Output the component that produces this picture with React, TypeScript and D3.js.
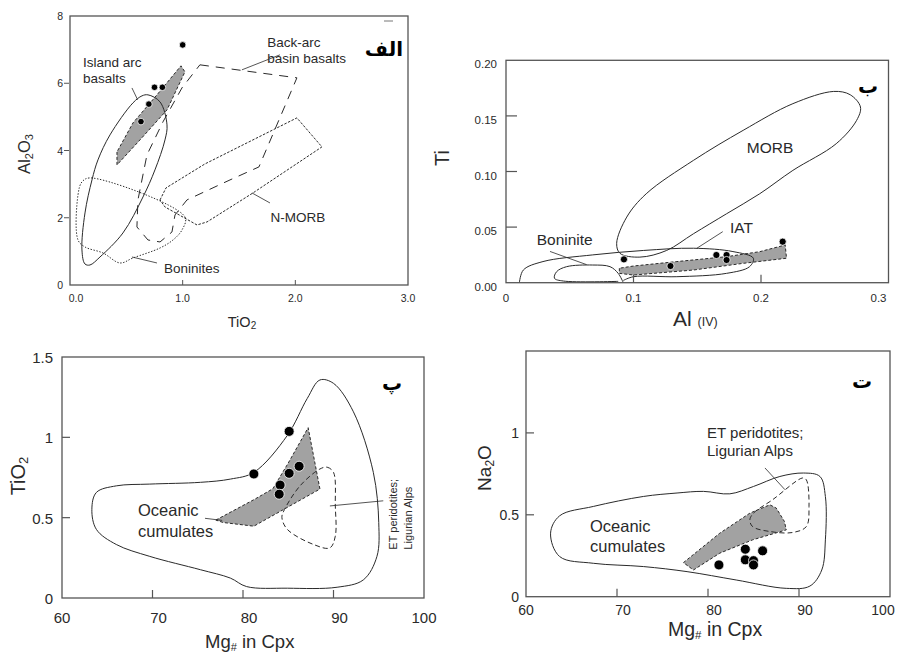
import React from 'react';
import * as d3 from 'd3';

type Pt = [number, number];

// ---------------- Panel الف : Al2O3 vs TiO2 ----------------
const aXTicks = [0, 1, 2, 3];
const aXTickLabels = ['0.0', '1.0', '2.0', '3.0'];
const aYTicks = [0, 2, 4, 6, 8];
const aIslandArc: Pt[] = [
  [0.692, 5.655], [0.799, 5.446], [0.861, 4.762], [0.843, 4.315], [0.754, 3.423], [0.648, 2.619],
  [0.47, 1.548], [0.266, 0.833], [0.177, 0.595], [0.133, 0.625], [0.106, 1.042], [0.133, 2.143],
  [0.195, 3.125], [0.248, 3.72], [0.355, 4.464], [0.559, 5.417], [0.639, 5.625],
];
const aIslandArcGray: Pt[] = [
  [0.417, 3.958], [0.417, 3.571], [0.621, 4.315], [0.861, 5.208], [1.02, 6.339], [0.985, 6.518],
  [0.772, 5.655], [0.559, 4.821],
];
const aBackArc: Pt[] = [
  [1.153, 6.548], [2.014, 6.161], [1.677, 3.512], [1.42, 3.125], [1.038, 2.53], [0.932, 2.083],
  [0.905, 1.577], [0.799, 1.28], [0.692, 1.339], [0.594, 1.726], [0.603, 2.53], [0.683, 3.869],
  [0.825, 4.851], [0.994, 5.863],
];
const aNMORB: Pt[] = [
  [0.799, 2.53], [0.852, 2.887], [1.198, 3.601], [2.014, 4.97], [2.236, 4.107], [1.624, 2.738],
  [1.216, 1.875], [1.127, 1.786], [0.843, 2.321],
];
const aBoninites: Pt[] = [
  [0.177, 3.185], [1.02, 2.024], [0.994, 1.637], [0.914, 1.339], [0.799, 1.101], [0.559, 0.804],
  [0.444, 0.655], [0.293, 0.952], [0.133, 1.131], [0.071, 1.339], [0.071, 2.679], [0.106, 3.065],
];
const aSamples: Pt[] = [[1.0, 7.14], [0.75, 5.88], [0.82, 5.88], [0.7, 5.38], [0.63, 4.86]];
const aLabels = [
  { text: 'Island arc', x: 0.115, y: 6.49 },
  { text: 'basalts', x: 0.115, y: 6.01 },
  { text: 'Back-arc', x: 1.75, y: 7.08 },
  { text: 'basin basalts', x: 1.75, y: 6.6 },
  { text: 'N-MORB', x: 1.78, y: 1.875 },
  { text: 'Boninites', x: 0.834, y: 0.357 },
];
const aPointers: Pt[][] = [
  [[0.55, 5.86], [0.6, 5.51]],
  [[1.863, 6.845], [1.526, 6.399]],
  [[1.615, 2.738], [1.775, 2.44]],
  [[0.55, 0.833], [0.772, 0.655]],
];

// ---------------- Panel ب : Ti vs Al(IV) ----------------
const bXTicks = [0, 0.1, 0.2, 0.3];
const bXTickLabels = ['0', '0.1', '0.2', '0.3'];
const bYTicks = [0, 0.05, 0.1, 0.15, 0.2];
const bYTickLabels = ['0.00', '0.05', '0.10', '0.15', '0.20'];
const bMORB: Pt[] = [
  [0.0894, 0.0264], [0.0868, 0.0354], [0.0947, 0.059], [0.11, 0.08], [0.147, 0.11], [0.186, 0.137],
  [0.225, 0.161], [0.257, 0.172], [0.27, 0.169], [0.278, 0.158], [0.275, 0.146], [0.259, 0.125],
  [0.225, 0.101], [0.199, 0.08], [0.173, 0.062], [0.147, 0.044], [0.126, 0.029], [0.105, 0.023],
];
const bIAT: Pt[] = [
  [0.0105, 0.0], [0.0136, 0.0114], [0.029, 0.019], [0.068, 0.025], [0.108, 0.029], [0.147, 0.031],
  [0.178, 0.028], [0.194, 0.022], [0.191, 0.0144], [0.173, 0.0084], [0.134, 0.0054], [0.1, 0.0054],
  [0.092, 0.002],
];
const bBoninite: Pt[] = [
  [0.088, 0.0012], [0.045, 0.0015], [0.038, 0.004], [0.0397, 0.0099], [0.0475, 0.0144],
  [0.068, 0.0159], [0.0816, 0.0144], [0.088, 0.0084], [0.092, 0.0],
];
const bGray: Pt[] = [
  [0.0889, 0.013], [0.0889, 0.0084], [0.1, 0.0069], [0.147, 0.0114], [0.186, 0.0174], [0.22, 0.022],
  [0.219, 0.0339], [0.199, 0.0279], [0.173, 0.0234], [0.134, 0.019], [0.1, 0.015],
];
const bSamples: Pt[] = [
  [0.0925, 0.021], [0.129, 0.015], [0.165, 0.0249], [0.173, 0.0249], [0.173, 0.0204], [0.217, 0.0369],
];
const bLabels = [
  { text: 'Boninite', x: 0.0241, y: 0.0339 },
  { text: 'IAT', x: 0.1757, y: 0.0447 },
  { text: 'MORB', x: 0.1888, y: 0.1166 },
];
const bPointers: Pt[][] = [
  [[0.0345, 0.0281], [0.0633, 0.0162]],
  [[0.17, 0.0459], [0.1496, 0.0309]],
];

// ---------------- Panel پ : TiO2 vs Mg# ----------------
const cXTicks = [60, 70, 80, 90, 100];
const cYTicks = [0, 0.5, 1, 1.5];
const cYTickLabels = ['0', '0.5', '1', '1.5'];
const cOceanic: Pt[] = [
  [63.3, 0.552], [63.8, 0.657], [66.0, 0.698], [69.7, 0.709], [75.3, 0.72], [78.6, 0.74], [81.2, 0.782],
  [84.9, 1.012], [87.1, 1.242], [88.5, 1.357], [90.0, 1.336], [92.2, 1.159], [94.4, 0.782], [95.0, 0.469],
  [94.8, 0.259], [93.3, 0.113], [90.4, 0.067], [84.9, 0.061], [80.4, 0.071], [78.6, 0.124], [75.3, 0.176],
  [69.7, 0.259], [66.0, 0.333], [63.8, 0.427],
];
const cGray: Pt[] = [
  [77.0, 0.485], [81.3, 0.615], [83.3, 0.68], [85.0, 0.84], [87.2, 1.06], [88.5, 0.678], [81.2, 0.447], [77.8, 0.47],
];
const cET: Pt[] = [
  [88.5, 0.803], [89.3, 0.814], [90.0, 0.782], [90.2, 0.573], [90.2, 0.385], [89.6, 0.312], [87.8, 0.333],
  [84.9, 0.427], [84.3, 0.5], [84.5, 0.541], [86.3, 0.698],
];
const cSamples: Pt[] = [[85.1, 1.037], [81.2, 0.772], [86.2, 0.82], [85.1, 0.776], [84.1, 0.703], [84.0, 0.646]];
const cPointers: Pt[][] = [
  [[75.8, 0.496], [77.7, 0.483]],
  [[89.6, 0.573], [95.5, 0.605]],
];

// ---------------- Panel ت : Na2O vs Mg# ----------------
const dXTicks = [60, 70, 80, 90, 100];
const dYTicks = [0, 0.5, 1];
const dYTickLabels = ['0', '0.5', '1'];
const dOceanic: Pt[] = [
  [62.7, 0.388], [63.7, 0.494], [67.4, 0.551], [72.9, 0.612], [76.6, 0.633], [79.5, 0.643], [82.4, 0.628],
  [85.0, 0.673], [87.9, 0.734], [90.5, 0.755], [92.3, 0.734], [92.9, 0.612], [92.9, 0.347], [92.5, 0.163],
  [91.2, 0.065], [88.6, 0.051], [83.1, 0.102], [77.7, 0.153], [72.9, 0.184], [67.4, 0.204], [63.7, 0.245],
];
const dGray: Pt[] = [
  [77.3, 0.208], [81.3, 0.388], [84.6, 0.51], [86.8, 0.561], [87.5, 0.541], [88.4, 0.459], [88.6, 0.408],
  [84.9, 0.347], [81.3, 0.266], [78.4, 0.163],
];
const dET: Pt[] = [
  [84.6, 0.469], [85.0, 0.51], [87.1, 0.592], [90.4, 0.725], [90.8, 0.714], [91.1, 0.551], [90.8, 0.428],
  [89.3, 0.392], [86.8, 0.398], [84.9, 0.428],
];
const dSamples: Pt[] = [[81.2, 0.194], [84.1, 0.29], [86.0, 0.28], [84.1, 0.225], [85.0, 0.22], [85.0, 0.194]];
const dPointers: Pt[][] = [[[86.26, 0.786], [88.46, 0.653]]];

const FONT = "'Liberation Sans', Arial, Helvetica, sans-serif";
const AR_FONT = "'DejaVu Sans', sans-serif";
const INK = '#2a2a2a';
const FRAME = '#555';
const GRAY = '#a2a2a2';

type Scale = d3.ScaleLinear<number, number>;

function gen(sx: Scale, sy: Scale, curve: d3.CurveFactory) {
  return d3.line<Pt>().x((d) => sx(d[0])).y((d) => sy(d[1])).curve(curve);
}

function Frame({ sx, sy }: { sx: Scale; sy: Scale }) {
  const [x0, x1] = sx.range();
  const [y0, y1] = sy.range();
  return <rect x={x0} y={y1} width={x1 - x0} height={y0 - y1} fill="none" stroke={FRAME} strokeWidth={1.3} />;
}

function Dots({ pts, sx, sy, r }: { pts: Pt[]; sx: Scale; sy: Scale; r: number }) {
  return (
    <g>
      {pts.map((d, i) => (
        <circle key={i} cx={sx(d[0])} cy={sy(d[1])} r={r} fill="#000" stroke="#fff" strokeWidth={0.8} />
      ))}
    </g>
  );
}

function Pointers({ lines, sx, sy }: { lines: Pt[][]; sx: Scale; sy: Scale }) {
  const g = gen(sx, sy, d3.curveLinear);
  return (
    <g>
      {lines.map((l, i) => (
        <path key={i} d={g(l) || ''} fill="none" stroke={INK} strokeWidth={0.8} />
      ))}
    </g>
  );
}

export default function App() {
  // scales
  const axA = d3.scaleLinear().domain([0, 3]).range([70, 408]);
  const ayA = d3.scaleLinear().domain([0, 8]).range([285, 16]);
  const axB = d3.scaleLinear().domain([0, 0.3]).range([506, 888.5]);
  const ayB = d3.scaleLinear().domain([0, 0.2]).range([282.7, 60.3]);
  const axC = d3.scaleLinear().domain([60, 100]).range([62, 424]);
  const ayC = d3.scaleLinear().domain([0, 1.5]).range([598, 357]);
  const axD = d3.scaleLinear().domain([60, 100]).range([526, 890]);
  const ayD = d3.scaleLinear().domain([0, 1.5]).range([596.7, 351]);

  const linA = gen(axA, ayA, d3.curveLinearClosed);
  const smA = gen(axA, ayA, d3.curveCatmullRomClosed.alpha(0.5));
  const smB = gen(axB, ayB, d3.curveCatmullRomClosed.alpha(0.5));
  const openB = gen(axB, ayB, d3.curveCatmullRom.alpha(0.5));
  const linB = gen(axB, ayB, d3.curveLinearClosed);
  const smC = gen(axC, ayC, d3.curveCatmullRomClosed.alpha(0.5));
  const linC = gen(axC, ayC, d3.curveLinearClosed);
  const smD = gen(axD, ayD, d3.curveCatmullRomClosed.alpha(0.5));
  const linD = gen(axD, ayD, d3.curveLinearClosed);

  return (
    <svg width={900} height={652} style={{ position: 'absolute', left: 0, top: 0, background: '#fff' }} fontFamily={FONT}>
      <rect width={900} height={652} fill="#fff" />

      {/* ================= Panel الف ================= */}
      <g>
        <path d={smA(aBoninites) || ''} fill="none" stroke={INK} strokeWidth={1} strokeDasharray="1.4,1.6" />
        <path d={linA(aNMORB) || ''} fill="none" stroke={INK} strokeWidth={1} strokeDasharray="2.5,1.5" />
        <path d={linA(aBackArc) || ''} fill="none" stroke={INK} strokeWidth={1} strokeDasharray="9,7" />
        <path d={linA(aIslandArcGray) || ''} fill={GRAY} stroke={INK} strokeWidth={1} strokeDasharray="3,2" />
        <path d={smA(aIslandArc) || ''} fill="none" stroke={INK} strokeWidth={1} />
        <Dots pts={aSamples} sx={axA} sy={ayA} r={3.3} />
        <Pointers lines={aPointers} sx={axA} sy={ayA} />
        {aLabels.map((l, i) => (
          <text key={i} x={axA(l.x)} y={ayA(l.y)} fontSize={13.5} fill={INK}>{l.text}</text>
        ))}
        <Frame sx={axA} sy={ayA} />
        {aXTicks.slice(1, 3).map((v) => (
          <line key={v} x1={axA(v)} x2={axA(v)} y1={ayA(0)} y2={ayA(0) - 5} stroke={FRAME} />
        ))}
        {aYTicks.slice(1, 4).map((v) => (
          <line key={v} x1={64} x2={69} y1={ayA(v)} y2={ayA(v)} stroke={FRAME} />
        ))}
        {aXTicks.map((v, i) => (
          <text key={v} x={axA(v) + (i === 0 ? 6 : 0)} y={302} fontSize={10.5} textAnchor="middle" fill={INK}>{aXTickLabels[i]}</text>
        ))}
        {aYTicks.map((v) => (
          <text key={v} x={63} y={ayA(v) + 4} fontSize={10.5} textAnchor="end" fill={INK}>{v}</text>
        ))}
        <text transform="translate(30,154) rotate(-90)" textAnchor="middle" fontSize={16.5} fill={INK}>
          Al<tspan fontSize={11} dy={3}>2</tspan><tspan dy={-3}>O</tspan><tspan fontSize={11} dy={3}>3</tspan>
        </text>
        <text x={242} y={327} textAnchor="middle" fontSize={14.5} fill={INK}>
          TiO<tspan fontSize={10} dy={2}>2</tspan>
        </text>
        <line x1={384} x2={393} y1={21} y2={21} stroke="#777" strokeWidth={1} />
        <text x={403} y={56} textAnchor="end" fontFamily={AR_FONT} fontWeight="bold" fontSize={20} fill="#000">الف</text>
      </g>

      {/* ================= Panel ب ================= */}
      <g>
        <path d={linB(bGray) || ''} fill={GRAY} stroke={INK} strokeWidth={1} strokeDasharray="3,2" />
        <path d={smB(bMORB) || ''} fill="none" stroke={INK} strokeWidth={1} />
        <path d={openB(bIAT) || ''} fill="none" stroke={INK} strokeWidth={1} />
        <path d={openB(bBoninite) || ''} fill="none" stroke={INK} strokeWidth={1} />
        <Dots pts={bSamples} sx={axB} sy={ayB} r={3.6} />
        <Pointers lines={bPointers} sx={axB} sy={ayB} />
        {bLabels.map((l, i) => (
          <text key={i} x={axB(l.x)} y={ayB(l.y)} fontSize={15.5} fill={INK}>{l.text}</text>
        ))}
        <Frame sx={axB} sy={ayB} />
        {bYTicks.slice(1, 4).map((v) => (
          <line key={v} x1={axB(0)} x2={axB(0) + 11} y1={ayB(v)} y2={ayB(v)} stroke={FRAME} strokeWidth={1.2} />
        ))}
        {bXTicks.slice(1, 3).map((v) => (
          <line key={v} x1={axB(v)} x2={axB(v)} y1={ayB(0)} y2={ayB(0) - 8} stroke={FRAME} strokeWidth={1.2} />
        ))}
        {bYTicks.map((v, i) => (
          <text key={v} x={497} y={ayB(v) + 8} fontSize={11.5} textAnchor="end" fill={INK}>{bYTickLabels[i]}</text>
        ))}
        {bXTicks.map((v, i) => (
          <text key={v} x={axB(v) + (i === 3 ? -10 : 0)} y={302} fontSize={11.5} textAnchor="middle" fill={INK}>{bXTickLabels[i]}</text>
        ))}
        <text transform="translate(449,158) rotate(-90)" textAnchor="middle" fontSize={20} fill={INK}>Ti</text>
        <text x={673} y={326} fontSize={21} fill={INK}>
          Al <tspan fontSize={12.5}>(IV)</tspan>
        </text>
        <text x={878} y={93} textAnchor="end" fontFamily={AR_FONT} fontWeight="bold" fontSize={20} fill="#000">ب</text>
      </g>

      {/* ================= Panel پ ================= */}
      <g>
        <path d={linC(cGray) || ''} fill={GRAY} stroke={INK} strokeWidth={1} strokeDasharray="3,2" />
        <path d={smC(cOceanic) || ''} fill="none" stroke={INK} strokeWidth={1} />
        <path d={smC(cET) || ''} fill="none" stroke={INK} strokeWidth={1} strokeDasharray="5,3" />
        <Dots pts={cSamples} sx={axC} sy={ayC} r={5} />
        <Pointers lines={cPointers} sx={axC} sy={ayC} />
        <text x={axC(68.4)} y={ayC(0.508)} fontSize={16.5} fill={INK}>Oceanic</text>
        <text x={axC(68.4)} y={ayC(0.377)} fontSize={16.5} fill={INK}>cumulates</text>
        <text transform={`translate(${axC(97.0)},${ayC(0.301)}) rotate(-90)`} fontSize={11} fill={INK}>ET peridotites;</text>
        <text transform={`translate(${axC(98.65)},${ayC(0.301)}) rotate(-90)`} fontSize={11} fill={INK}>Ligurian Alps</text>
        <Frame sx={axC} sy={ayC} />
        {cYTicks.slice(1, 3).map((v) => (
          <line key={v} x1={axC(60)} x2={axC(60) + 8} y1={ayC(v)} y2={ayC(v)} stroke={FRAME} strokeWidth={1.2} />
        ))}
        {cXTicks.slice(1, 4).map((v) => (
          <line key={v} x1={axC(v)} x2={axC(v)} y1={ayC(0)} y2={ayC(0) - 8} stroke={FRAME} strokeWidth={1.2} />
        ))}
        {cYTicks.map((v, i) => (
          <text key={v} x={53} y={ayC(v) + 6} fontSize={15} textAnchor="end" fill={INK}>{cYTickLabels[i]}</text>
        ))}
        {cXTicks.map((v, i) => (
          <text key={v} x={axC(v) + (i === 0 || i === 4 ? 0 : 6)} y={623} fontSize={15} textAnchor="middle" fill={INK}>{v}</text>
        ))}
        <text transform="translate(25,476) rotate(-90)" textAnchor="middle" fontSize={20} fill={INK}>
          TiO<tspan fontSize={13} dy={3}>2</tspan>
        </text>
        <text x={205} y={648} fontSize={18.5} fill={INK}>
          Mg<tspan fontSize={11} dy={3}>#</tspan><tspan dy={-3}> in Cpx</tspan>
        </text>
        <text x={402} y={390} textAnchor="end" fontFamily={AR_FONT} fontWeight="bold" fontSize={20} fill="#000">پ</text>
      </g>

      {/* ================= Panel ت ================= */}
      <g>
        <path d={linD(dGray) || ''} fill={GRAY} stroke={INK} strokeWidth={1} strokeDasharray="3,2" />
        <path d={smD(dOceanic) || ''} fill="none" stroke={INK} strokeWidth={1} />
        <path d={smD(dET) || ''} fill="none" stroke={INK} strokeWidth={1} strokeDasharray="5,3" />
        <Dots pts={dSamples} sx={axD} sy={ayD} r={5} />
        <Pointers lines={dPointers} sx={axD} sy={ayD} />
        <text x={axD(67.03)} y={ayD(0.396)} fontSize={16.5} fill={INK}>Oceanic</text>
        <text x={axD(67.03)} y={ayD(0.273)} fontSize={16.5} fill={INK}>cumulates</text>
        <text x={axD(79.89)} y={ayD(0.971)} fontSize={15} fill={INK}>ET peridotites;</text>
        <text x={axD(79.89)} y={ayD(0.861)} fontSize={15} fill={INK}>Ligurian Alps</text>
        <Frame sx={axD} sy={ayD} />
        {dYTicks.slice(1, 3).map((v) => (
          <line key={v} x1={axD(60)} x2={axD(60) + 8} y1={ayD(v)} y2={ayD(v)} stroke={FRAME} strokeWidth={1.2} />
        ))}
        {dXTicks.slice(1, 4).map((v) => (
          <line key={v} x1={axD(v)} x2={axD(v)} y1={ayD(0)} y2={ayD(0) - 8} stroke={FRAME} strokeWidth={1.2} />
        ))}
        {dYTicks.map((v, i) => (
          <text key={v} x={519} y={ayD(v) + 5} fontSize={14} textAnchor="end" fill={INK}>{dYTickLabels[i]}</text>
        ))}
        {dXTicks.map((v, i) => (
          <text key={v} x={axD(v) + (i === 0 ? 0 : i === 4 ? -7 : 6)} y={615} fontSize={14} textAnchor="middle" fill={INK}>{v}</text>
        ))}
        <text transform="translate(491,468) rotate(-90)" textAnchor="middle" fontSize={19} fill={INK}>
          Na<tspan fontSize={12} dy={3}>2</tspan><tspan dy={-3}>O</tspan>
        </text>
        <text x={668} y={636} fontSize={19.5} fill={INK}>
          Mg<tspan fontSize={11.5} dy={3}>#</tspan><tspan dy={-3}> in Cpx</tspan>
        </text>
        <text x={872} y={388} textAnchor="end" fontFamily={AR_FONT} fontWeight="bold" fontSize={20} fill="#000">ت</text>
      </g>
    </svg>
  );
}
